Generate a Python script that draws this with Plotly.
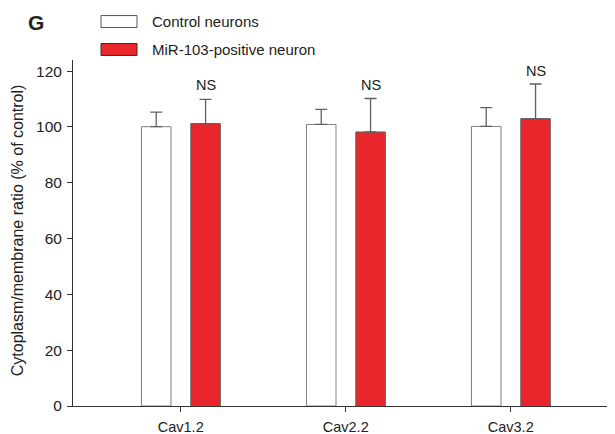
import plotly.graph_objects as go

categories = ["Cav1.2", "Cav2.2", "Cav3.2"]
control_values = [100.1, 100.9, 100.2]
control_errors = [5.2, 5.4, 6.7]
mir_values = [101.2, 98.2, 103.0]
mir_errors = [8.7, 12.0, 12.4]
sig_labels = ["NS", "NS", "NS"]
sig_y = [115, 115, 120]
y_ticks = [0, 20, 40, 60, 80, 100, 120]
series_names = ["Control neurons", "MiR-103-positive neuron"]
y_title = "Cytoplasm/membrane ratio (% of control)"

FONT = "Liberation Sans, Arial, sans-serif"
RED = "#E8262B"
xi = list(range(len(categories)))

# plot area (page px): left 73, right 615, top 59.5, bottom 406
PW, PH = 542.0, 346.5
def px(x):
    return (x - 73) / PW
def py(y):
    return (406 - y) / PH

fig = go.Figure()
fig.add_trace(go.Bar(
    x=xi, y=control_values, name=series_names[0],
    width=0.179, offset=-0.238,
    marker=dict(color="white", line=dict(color="#808080", width=1)),
    error_y=dict(type="data", array=control_errors, arrayminus=[0]*3, symmetric=False,
                 color="#606060", thickness=1.3, width=6),
    showlegend=False,
))
fig.add_trace(go.Bar(
    x=xi, y=mir_values, name=series_names[1],
    width=0.179, offset=0.061,
    marker=dict(color=RED, line=dict(color="#606060", width=1)),
    error_y=dict(type="data", array=mir_errors, arrayminus=[0]*3, symmetric=False,
                 color="#606060", thickness=1.3, width=6),
    showlegend=False,
))

for i, (lab, yv) in enumerate(zip(sig_labels, sig_y)):
    fig.add_annotation(x=i + 0.061 + 0.179 / 2, y=yv, text=lab, showarrow=False,
                       xref="x", yref="y", font=dict(family=FONT, size=14.5, color="#222"))

# manual legend
fig.add_shape(type="rect", xref="paper", yref="paper", layer="above",
              x0=px(101), x1=px(137), y0=py(27), y1=py(15),
              line=dict(color="#555", width=1), fillcolor="white")
fig.add_shape(type="rect", xref="paper", yref="paper", layer="above",
              x0=px(101), x1=px(137), y0=py(55), y1=py(43),
              line=dict(color="#333", width=1), fillcolor=RED)
fig.add_annotation(xref="paper", yref="paper", x=px(150), y=py(21),
                   text=series_names[0], showarrow=False, xanchor="left", yanchor="middle",
                   font=dict(family=FONT, size=15, color="#222"))
fig.add_annotation(xref="paper", yref="paper", x=px(150), y=py(49),
                   text=series_names[1], showarrow=False, xanchor="left", yanchor="middle",
                   font=dict(family=FONT, size=15, color="#222"))
fig.add_annotation(xref="paper", yref="paper", x=px(36), y=py(22),
                   text="<b>G</b>", showarrow=False, xanchor="center", yanchor="middle",
                   font=dict(family=FONT, size=21, color="#222"))
# y axis title
fig.add_annotation(xref="paper", yref="paper", x=px(17), y=py(230),
                   text=y_title, showarrow=False, textangle=-90,
                   xanchor="center", yanchor="middle",
                   font=dict(family=FONT, size=16, color="#222"))

# page has an 8px body margin, so the figure is 8px smaller and margins shifted
fig.update_layout(
    width=607, height=426,
    margin=dict(l=65, r=0, t=51.5, b=28, autoexpand=False),
    paper_bgcolor="white", plot_bgcolor="white",
    barmode="overlay",
    font=dict(family=FONT, size=14, color="#222"),
    xaxis=dict(range=[-0.653, 2.632], tickmode="array", tickvals=xi, ticktext=categories,
               showline=True, linecolor="#333", linewidth=1, ticks="outside", ticklen=5,
               tickcolor="#333", showgrid=False, zeroline=False, ticklabelstandoff=3,
               automargin=False,
               tickfont=dict(family=FONT, size=14.5, color="#222")),
    yaxis=dict(range=[0, 124], tickvals=y_ticks, showline=True, linecolor="#333", linewidth=1,
               ticks="outside", ticklen=5, tickcolor="#333", showgrid=False, zeroline=False,
               ticklabelstandoff=2, automargin=False,
               tickfont=dict(family=FONT, size=15.5, color="#222")),
)

fig.write_html("out.html")
